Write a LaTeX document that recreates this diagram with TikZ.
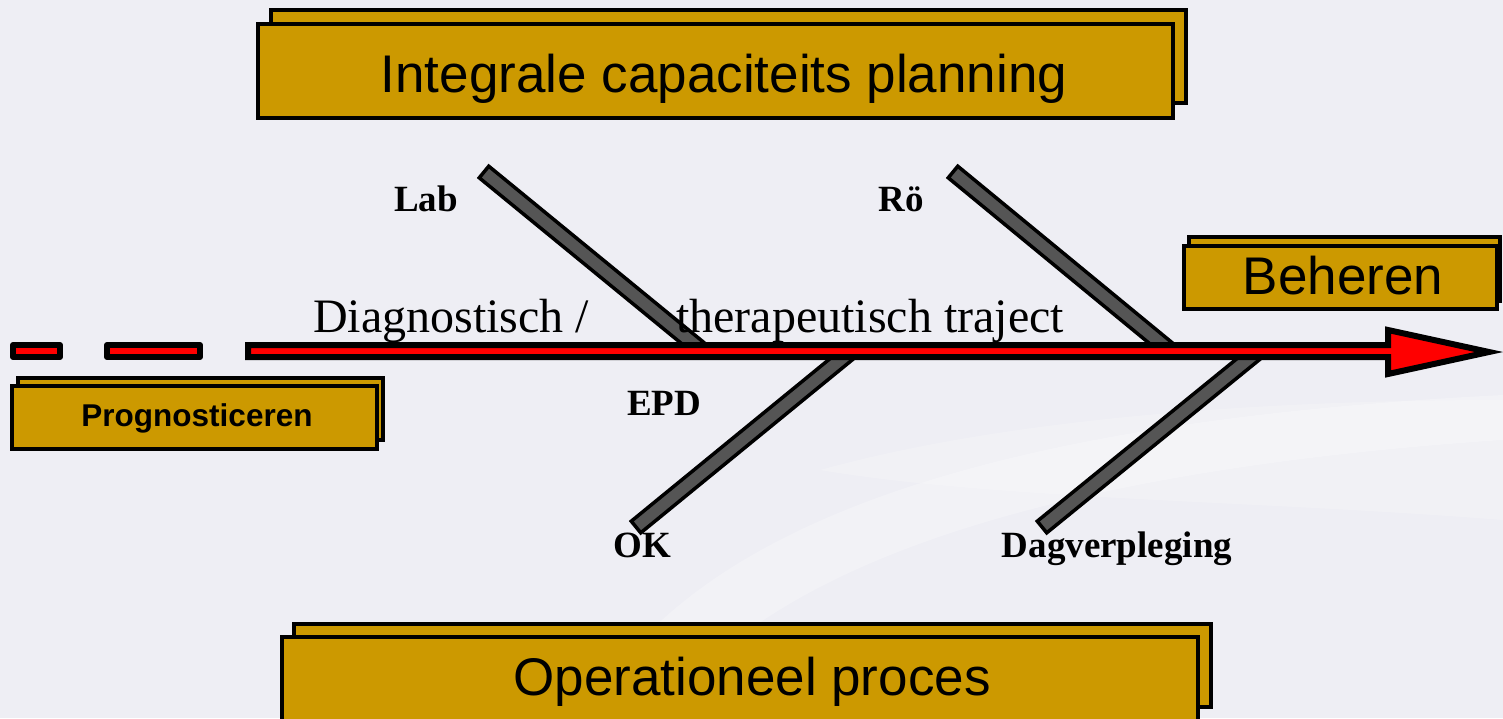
\documentclass[tikz,border=0pt]{standalone}
\usepackage{fontspec}
\setmainfont{Liberation Serif}
\setsansfont{Liberation Sans}
\usetikzlibrary{calc}
\definecolor{bg}{HTML}{EEEEF4}
\definecolor{gold}{HTML}{CC9900}
\definecolor{boneA}{HTML}{555555}
\definecolor{boneB}{HTML}{8A8A8A}
\begin{document}
\begin{tikzpicture}[x=1pt,y=-1pt,
  box/.style={draw=black, line width=3.5pt, fill=gold, line join=miter},
  boxtext/.style={font=\sffamily\fontsize{53}{60}\selectfont, anchor=base, inner sep=0pt},
  smallboxtext/.style={font=\sffamily\bfseries\fontsize{31.5}{36}\selectfont, anchor=base, inner sep=0pt},
  bonelabel/.style={font=\bfseries\fontsize{37}{40}\selectfont, anchor=base, inner sep=0pt},
  spinetext/.style={font=\fontsize{48}{52}\selectfont, anchor=base west, inner sep=0pt},
  spine/.style={draw=black, fill=red, line width=6pt},
  bonestyle/.style={draw=black, line width=3.5pt, left color=boneA, middle color=boneB, right color=boneA}
]
\useasboundingbox (0,0) rectangle (1503,718);
\fill[bg] (0,0) rectangle (1503,718);
% faint background swoosh
\fill[white, opacity=0.25] (585,718) .. controls (690,520) and (1000,420) .. (1503,395)
  -- (1503,440) .. controls (1060,470) and (770,560) .. (660,718) -- cycle;
\fill[white, opacity=0.18] (820,470) .. controls (1000,420) and (1250,400) .. (1503,400)
  -- (1503,520) .. controls (1250,500) and (1000,500) .. (820,470) -- cycle;

% bone end points
\coordinate (labA) at (484,172);
\coordinate (labB) at (700,349);
\coordinate (roA)  at (953,172);
\coordinate (roB)  at (1168,349);
\coordinate (okA)  at (636,527);
\coordinate (okB)  at (850,352);
\coordinate (dagA) at (1042,527);
\coordinate (dagB) at (1257,352);

% bones
\foreach \a/\b in {labA/labB, roA/roB, okA/okB, dagA/dagB}{
  \path[bonestyle] ($(\a)!7.5pt!90:(\b)$) -- ($(\b)!7.5pt!-90:(\a)$)
     -- ($(\b)!7.5pt!90:(\a)$) -- ($(\a)!7.5pt!-90:(\b)$) -- cycle;
}

% spine with arrow head
\path[spine] (248,345) -- (1388,345) -- (1388,330) -- (1489,352)
  -- (1388,374) -- (1388,357) -- (248,357) -- cycle;
% dashes
\path[spine, line join=round] (13,345) rectangle (60,357);
\path[spine, line join=round] (107,345) rectangle (200,357);

% spine text
\node[spinetext] (diag) at (313,332) {Diagnostisch /};
\node[spinetext] (ther) at (676,332) {therapeutisch traject};

% bone labels
\node[bonelabel] (lab) at (426,211) {Lab};
\node[bonelabel] (ro)  at (901,211) {Rö};
\node[bonelabel] (epd) at (664,415) {EPD};
\node[bonelabel] (ok)  at (642,557) {OK};
\node[bonelabel] (dag) at (1117,557) {Dagverpleging};

% top box
\path[box] (271,10) rectangle (1186,103);
\path[box] (258,24) rectangle (1173,118);
\node[boxtext] (icp) at (724,92) {Integrale capaciteits planning};

% Beheren box
\path[box] (1189,237) rectangle (1500,301);
\path[box] (1184,246) rectangle (1497,309);
\node[boxtext] (beh) at (1343,294) {Beheren};

% Prognosticeren box
\path[box] (18,378) rectangle (383,440);
\path[box] (12,386) rectangle (377,449);
\node[smallboxtext] (prog) at (197,426) {Prognosticeren};

% Operationeel box
\path[box] (294,624) rectangle (1211,707);
\path[box] (282,637) rectangle (1198,740);
\node[boxtext] (op) at (752,695) {Operationeel proces};
\end{tikzpicture}
\end{document}
